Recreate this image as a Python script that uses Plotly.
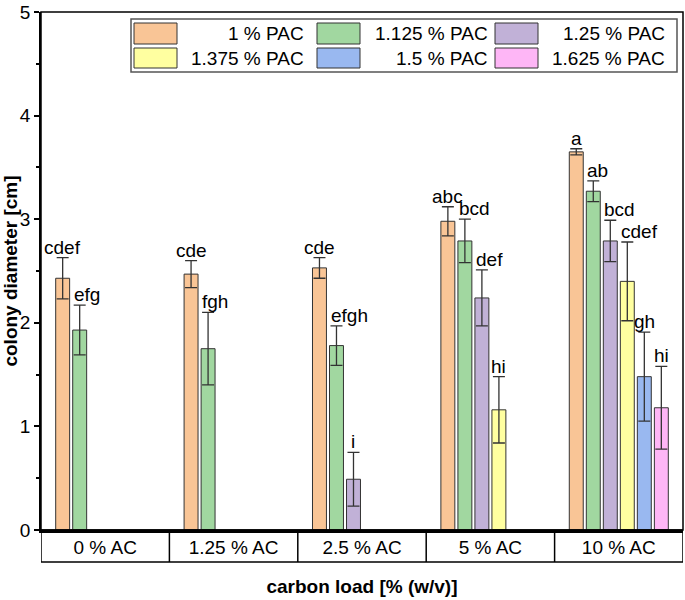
import plotly.graph_objects as go

# ---------------- data ----------------
categories = ["0 % AC", "1.25 % AC", "2.5 % AC", "5 % AC", "10 % AC"]
series_names = ["1 % PAC", "1.125 % PAC", "1.25 % PAC", "1.375 % PAC", "1.5 % PAC", "1.625 % PAC"]

pac_1_000 = [2.43, 2.47, 2.53, 2.98, 3.65]
pac_1_125 = [1.93, 1.75, 1.78, 2.79, 3.27]
pac_1_250 = [None, None, 0.49, 2.24, 2.79]
pac_1_375 = [None, None, None, 1.16, 2.40]
pac_1_500 = [None, None, None, None, 1.48]
pac_1_625 = [None, None, None, None, 1.18]

err_1_000 = [0.20, 0.13, 0.10, 0.14, 0.03]
err_1_125 = [0.24, 0.35, 0.19, 0.21, 0.10]
err_1_250 = [None, None, 0.26, 0.27, 0.20]
err_1_375 = [None, None, None, 0.32, 0.38]
err_1_500 = [None, None, None, None, 0.43]
err_1_625 = [None, None, None, None, 0.40]

let_1_000 = ["cdef", "cde", "cde", "abc", "a"]
let_1_125 = ["efg", "fgh", "efgh", "bcd", "ab"]
let_1_250 = [None, None, "i", "def", "bcd"]
let_1_375 = [None, None, None, "hi", "cdef"]
let_1_500 = [None, None, None, None, "gh"]
let_1_625 = [None, None, None, None, "hi"]

values = [pac_1_000, pac_1_125, pac_1_250, pac_1_375, pac_1_500, pac_1_625]
errors = [err_1_000, err_1_125, err_1_250, err_1_375, err_1_500, err_1_625]
letters = [let_1_000, let_1_125, let_1_250, let_1_375, let_1_500, let_1_625]

# ---------------- style ----------------
colors = ["#F9C596", "#A1D7A0", "#C1B1D7", "#FFFFA0", "#99B8F0", "#FEB6F6"]
left_aligned = {(1, 0), (1, 1), (1, 2), (1, 3), (2, 3), (1, 4), (2, 4), (3, 4)}
FONT = "Liberation Sans, Arial, sans-serif"
FS = 19
W, H = 685, 600
ML, MR, MT, MB = 41, 2, 12, 70
PW, PH = W - ML - MR, H - MT - MB
BARGAP, BARGROUPGAP = 0.205, 0.18
EDGE = "#333333"


def px(x):  # page pixel x -> paper
    return (x - ML) / PW


def py(y):  # page pixel y -> paper
    return (H - MB - y) / PH


fig = go.Figure()
xs = list(range(len(categories)))
for name, vals, errs, col in zip(series_names, values, errors, colors):
    fig.add_trace(go.Bar(
        x=xs, y=vals, name=name,
        marker=dict(color=col, line=dict(color=EDGE, width=1)),
        error_y=dict(type="data", array=errs, visible=True, color=EDGE,
                     thickness=1.3, width=6),
        showlegend=False,
    ))

# significance letters
n = len(series_names)
slot = (1 - BARGAP) / n
for i in range(n):
    for c in range(len(categories)):
        lab = letters[i][c]
        if not lab:
            continue
        center = c + (i - (n - 1) / 2) * slot
        top = values[i][c] + errors[i][c]
        if (i, c) in left_aligned:
            x, anchor = center - slot * (1 - BARGROUPGAP) / 2, "left"
        else:
            x, anchor = center, "center"
        fig.add_annotation(x=x, y=top, xref="x", yref="y", text=lab,
                           showarrow=False, xanchor=anchor, yanchor="bottom",
                           borderpad=0, yshift=-1,
                           font=dict(family=FONT, size=FS, color="black"))

shapes = []
# category band below the axis
band = 32 / PH
shapes.append(dict(type="rect", xref="x", yref="paper", x0=-0.5, x1=len(categories) - 0.5,
                   y0=-band, y1=0, line=dict(color="black", width=1.5)))
for c in range(len(categories) - 1):
    shapes.append(dict(type="line", xref="x", yref="paper", x0=c + 0.5, x1=c + 0.5,
                       y0=-band, y1=0, line=dict(color="black", width=1.5)))
# plot frame
shapes.append(dict(type="rect", xref="paper", yref="paper", x0=0, x1=1, y0=0, y1=1,
                   line=dict(color="black", width=1.5)))

# custom legend (3 columns x 2 rows, text right-aligned before next swatch)
leg_box = (131, 677, 19, 72)
sw_x = [134, 317, 495]
sw_w = 43
row_y = [(23, 44), (48, 68)]
txt_right = [306, 490, 667]
shapes.append(dict(type="rect", xref="paper", yref="paper",
                   x0=px(leg_box[0]), x1=px(leg_box[1]), y0=py(leg_box[3]), y1=py(leg_box[2]),
                   line=dict(color="#555555", width=1.5), fillcolor="white", layer="above"))
for i, (name, col) in enumerate(zip(series_names, colors)):
    r, cc = divmod(i, 3)
    y0, y1 = row_y[r]
    shapes.append(dict(type="rect", xref="paper", yref="paper",
                       x0=px(sw_x[cc]), x1=px(sw_x[cc] + sw_w), y0=py(y1), y1=py(y0),
                       line=dict(color=EDGE, width=1), fillcolor=col, layer="above"))
    fig.add_annotation(x=px(txt_right[cc]), y=py((y0 + y1) / 2), xref="paper", yref="paper",
                       text=name, showarrow=False, xanchor="right", yanchor="middle",
                       font=dict(family=FONT, size=FS, color="black"))

fig.update_layout(
    width=W, height=H,
    margin=dict(l=ML, r=MR, t=MT, b=MB),
    barmode="group", bargap=BARGAP, bargroupgap=BARGROUPGAP,
    plot_bgcolor="white", paper_bgcolor="white",
    font=dict(family=FONT, size=FS, color="black"),
    shapes=shapes,
    xaxis=dict(range=[-0.5, len(categories) - 0.5], tickvals=xs, ticktext=categories,
               showline=True, linecolor="black", linewidth=2.5, ticks="",
               showgrid=False, zeroline=False, ticklabelstandoff=-2, automargin=False,
               tickfont=dict(family=FONT, size=FS, color="black"),
               title=dict(text="carbon load [% (w/v)]", standoff=24,
                          font=dict(family=FONT, size=FS, color="black", weight="bold"))),
    yaxis=dict(range=[0, 5], dtick=1, ticks="outside", ticklen=5, tickwidth=1.5,
               tickcolor="black", showline=True, linecolor="black", linewidth=1.5,
               showgrid=False, zeroline=False, automargin=False,
               minor=dict(dtick=0.5, ticks="outside", ticklen=3, tickwidth=1.5, tickcolor="black"),
               tickfont=dict(family=FONT, size=FS, color="black"),
               title=dict(text="colony diameter [cm]", standoff=3,
                          font=dict(family=FONT, size=FS, color="black", weight="bold"))),
)

fig.write_html("out.html", config={"displayModeBar": False},
               post_script="document.body.style.margin='0';document.body.style.padding='0';")
